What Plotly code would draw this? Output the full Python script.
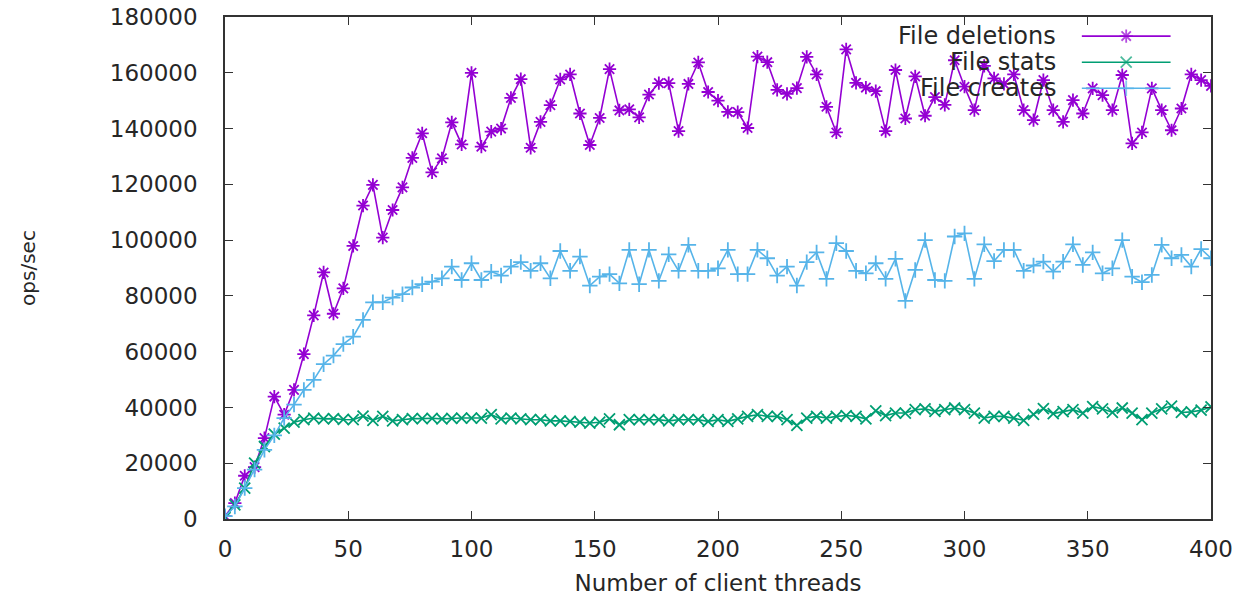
import plotly.graph_objects as go

threads = [0, 4, 8, 12, 16, 20, 24, 28, 32, 36, 40, 44, 48, 52, 56, 60, 64, 68, 72, 76,
           80, 84, 88, 92, 96, 100, 104, 108, 112, 116, 120, 124, 128, 132, 136, 140, 144, 148, 152, 156,
           160, 164, 168, 172, 176, 180, 184, 188, 192, 196, 200, 204, 208, 212, 216, 220, 224, 228, 232, 236,
           240, 244, 248, 252, 256, 260, 264, 268, 272, 276, 280, 284, 288, 292, 296, 300, 304, 308, 312, 316,
           320, 324, 328, 332, 336, 340, 344, 348, 352, 356, 360, 364, 368, 372, 376, 380, 384, 388, 392, 396, 400]

file_deletions = [1000, 5700, 15500, 18600, 29000, 43900, 37400, 46300, 59100, 73000,
                  88400, 73600, 82700, 97900, 112400, 119800, 100900, 110800, 118900, 129500,
                  138300, 124300, 129300, 142200, 134300, 160000, 133500, 138900, 140000, 151000,
                  157700, 133100, 142400, 148400, 157600, 159400, 145400, 134100, 143800, 161300,
                  146500, 146900, 144000, 152200, 156300, 156300, 139100, 156000, 163700, 153100,
                  150000, 146000, 145900, 140200, 165800, 163800, 153900, 152400, 154500, 165700,
                  159400, 147800, 138600, 168400, 156400, 154700, 153400, 139100, 161000, 143600,
                  158700, 144600, 151300, 148500, 164500, 155000, 146600, 162500, 158000, 156000,
                  159400, 146600, 143000, 157400, 146600, 142400, 150200, 145400, 154400, 152000,
                  146600, 159200, 134700, 138600, 154400, 146600, 139400, 147200, 159400, 157400, 155300]

file_stats = [500, 5100, 11100, 20000, 26000, 30400, 32600, 34700, 35600, 36200,
              35900, 36000, 35700, 35600, 36900, 35400, 36800, 35200, 35600, 36000,
              36000, 36100, 35900, 36100, 36200, 36200, 36200, 37400, 35900, 36200,
              35900, 35600, 35600, 35200, 35200, 35000, 34700, 34400, 34700, 35900,
              33800, 35600, 35600, 35600, 35600, 35200, 35600, 35600, 35600, 35000,
              35600, 35000, 35900, 36800, 37400, 36800, 36800, 35600, 33600, 36200,
              36800, 36200, 36800, 37100, 36800, 35900, 38800, 37100, 38000, 38000,
              39200, 39500, 38600, 39200, 39800, 39200, 38000, 36200, 36800, 36800,
              36200, 35400, 37500, 39600, 37800, 38500, 39200, 38000, 40300, 39500,
              38200, 39800, 38000, 35600, 38000, 39500, 40500, 38200, 38400, 39000, 40200]

file_creates = [1000, 4500, 11100, 17700, 24800, 30000, 36200, 41000, 46300, 49900,
                55500, 58600, 62700, 65400, 71400, 77700, 77700, 79400, 80600, 83000,
                84200, 85100, 86300, 90500, 85700, 91700, 85700, 88700, 87300, 90500,
                92100, 89000, 91700, 86300, 96100, 89000, 94100, 83700, 86900, 87800,
                84500, 96500, 84200, 96500, 85400, 94900, 89000, 98300, 89000, 89000,
                89900, 96500, 87800, 87800, 96500, 93500, 87300, 90500, 83700, 92100,
                95600, 86100, 98900, 96100, 89000, 88100, 91700, 86100, 93300, 78200,
                89300, 100000, 85700, 85400, 101300, 102400, 86100, 98500, 92500, 96500,
                96500, 89000, 90900, 92300, 88700, 92300, 98500, 91100, 95600, 88100,
                89900, 100000, 86900, 84900, 87500, 98300, 93500, 94700, 90500, 96800, 93500]

series_names = ["File deletions", "File stats", "File creates"]
series_values = [file_deletions, file_stats, file_creates]
series_colors = ["#9400D3", "#009E73", "#56B4E9"]
series_symbols = ["asterisk-open", "x-thin-open", "cross-thin-open"]

x_ticks = [0, 50, 100, 150, 200, 250, 300, 350, 400]
y_ticks = [0, 20000, 40000, 60000, 80000, 100000, 120000, 140000, 160000, 180000]
y_tick_labels = ["0", "20000", "40000", "60000", "80000", "100000", "120000", "140000", "160000", "180000"]

FONT = "DejaVu Sans"
TXT = "#262626"

fig = go.Figure()
for name, vals, col, sym in zip(series_names, series_values, series_colors, series_symbols):
    fig.add_trace(go.Scatter(
        x=threads, y=vals, name=name, mode="lines+markers",
        line=dict(color=col, width=1.6),
        marker=dict(symbol=sym, size=11, color=col, line=dict(color=col, width=1.8)),
        showlegend=False,
    ))

# gnuplot-style key: right-aligned text, sample to the right
key_rows = [0.962, 0.910, 0.858]
for name, col, sym, yk in zip(series_names, series_colors, series_symbols, key_rows):
    fig.add_annotation(x=0.845, y=yk, xref="paper", yref="paper", text=name,
                       showarrow=False, xanchor="right", yanchor="middle",
                       font=dict(family=FONT, size=24, color=TXT))
    fig.add_trace(go.Scatter(
        x=[0.869, 0.914, 0.959], y=[yk, yk, yk], xaxis="x2", yaxis="y2",
        mode="lines+markers", line=dict(color=col, width=1.6),
        marker=dict(symbol=sym, size=[0, 11, 0], color=col, line=dict(color=col, width=1.8)),
        showlegend=False, hoverinfo="skip",
    ))

axis_common = dict(showline=True, linecolor="#333333", linewidth=1.5, mirror="allticks",
                   ticks="inside", ticklen=8, tickwidth=1.2, tickcolor="#333333",
                   showgrid=False, zeroline=False, automargin=False,
                   tickfont=dict(family=FONT, size=23, color=TXT))

fig.update_layout(
    width=1249, height=599,
    margin=dict(l=225, r=38, t=17, b=80, autoexpand=False),
    paper_bgcolor="white", plot_bgcolor="white",
    xaxis=dict(range=[0, 400], tickvals=x_ticks, ticklabelstandoff=9,
               title=dict(text="Number of client threads", standoff=14,
                          font=dict(family=FONT, size=23, color=TXT)),
               **axis_common),
    yaxis=dict(range=[0, 180000], tickvals=y_ticks, ticktext=y_tick_labels, ticklabelstandoff=21,
               title=dict(text="ops/sec", standoff=69,
                          font=dict(family=FONT, size=20, color=TXT)),
               **axis_common),
    xaxis2=dict(range=[0, 1], overlaying="x", visible=False),
    yaxis2=dict(range=[0, 1], overlaying="y", visible=False),
    showlegend=False,
)

fig.write_html("out.html")
